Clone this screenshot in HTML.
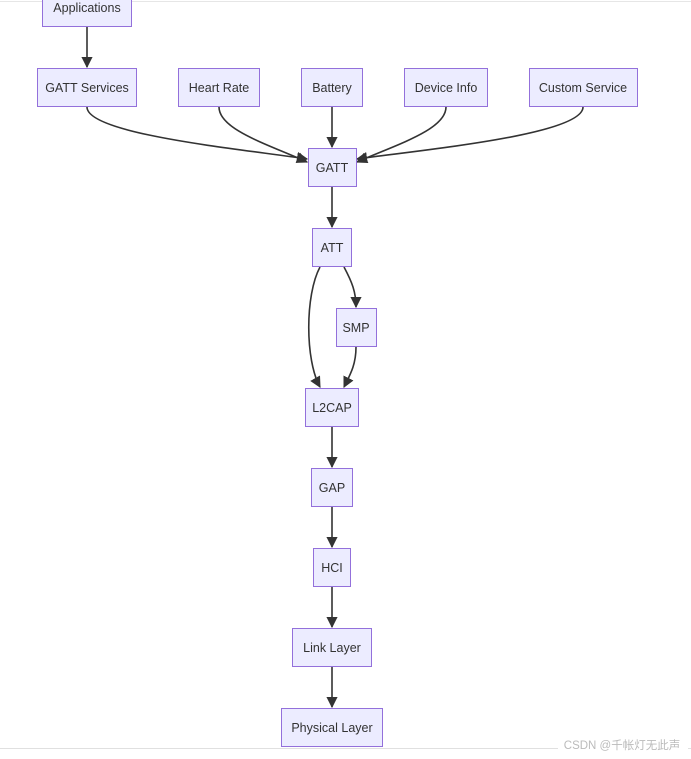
<!DOCTYPE html>
<html><head><meta charset="utf-8"><style>
html,body{margin:0;padding:0;background:#fff;width:691px;height:759px;overflow:hidden}
svg{display:block}
text{font-family:"Liberation Sans","Noto Sans CJK SC",sans-serif;font-size:12.5px;fill:#333;text-anchor:middle}
.b{fill:#ececff;stroke:#9370db;stroke-width:1}
.e{fill:none;stroke:#333;stroke-width:1.6}
</style></head><body>
<svg width="691" height="759" viewBox="0 0 691 759">
<defs><marker id="a" viewBox="0 0 10 10" refX="9" refY="5" markerWidth="7" markerHeight="7" orient="auto"><path d="M0,0L10,5L0,10z" fill="#333"/></marker></defs>
<line x1="0" y1="1.5" x2="691" y2="1.5" stroke="#e6e6e6"/>
<line x1="0" y1="748.5" x2="691" y2="748.5" stroke="#e0e0e0"/>
<path class="e" marker-end="url(#a)" d="M87,27V67"/>
<path class="e" marker-end="url(#a)" d="M87,107C87,135 250,150 307,159"/>
<path class="e" marker-end="url(#a)" d="M219,107C219,130 270,145 307,162"/>
<path class="e" marker-end="url(#a)" d="M332,107V147"/>
<path class="e" marker-end="url(#a)" d="M446,107C446,130 395,145 357,162"/>
<path class="e" marker-end="url(#a)" d="M583,107C583,135 420,150 357,159"/>
<path class="e" marker-end="url(#a)" d="M332,187V227"/>
<path class="e" marker-end="url(#a)" d="M344,267C352,282 356,292 356,307"/>
<path class="e" marker-end="url(#a)" d="M320,267C305,295 305,360 320,387"/>
<path class="e" marker-end="url(#a)" d="M356,347C356,365 350,375 344,387"/>
<path class="e" marker-end="url(#a)" d="M332,427V467"/>
<path class="e" marker-end="url(#a)" d="M332,507V547"/>
<path class="e" marker-end="url(#a)" d="M332,587V627"/>
<path class="e" marker-end="url(#a)" d="M332,667V707"/>
<rect class="b" x="42.5" y="-12" width="89" height="38.5"/><text x="87" y="12">Applications</text>
<rect class="b" x="37.5" y="68.5" width="99" height="38"/><text x="87" y="92">GATT Services</text>
<rect class="b" x="178.5" y="68.5" width="81" height="38"/><text x="219" y="92">Heart Rate</text>
<rect class="b" x="301.5" y="68.5" width="61" height="38"/><text x="332" y="92">Battery</text>
<rect class="b" x="404.5" y="68.5" width="83" height="38"/><text x="446" y="92">Device Info</text>
<rect class="b" x="529.5" y="68.5" width="108" height="38"/><text x="583" y="92">Custom Service</text>
<rect class="b" x="308.5" y="148.5" width="48" height="38"/><text x="332" y="172">GATT</text>
<rect class="b" x="312.5" y="228.5" width="39" height="38"/><text x="332" y="252">ATT</text>
<rect class="b" x="336.5" y="308.5" width="40" height="38"/><text x="356" y="332">SMP</text>
<rect class="b" x="305.5" y="388.5" width="53" height="38"/><text x="332" y="412">L2CAP</text>
<rect class="b" x="311.5" y="468.5" width="41" height="38"/><text x="332" y="492">GAP</text>
<rect class="b" x="313.5" y="548.5" width="37" height="38"/><text x="332" y="572">HCI</text>
<rect class="b" x="292.5" y="628.5" width="79" height="38"/><text x="332" y="652">Link Layer</text>
<rect class="b" x="281.5" y="708.5" width="101" height="38"/><text x="332" y="732">Physical Layer</text>
<rect x="558" y="738" width="130" height="14" fill="#fff"/>
<text x="622" y="749" style="font-size:11.5px;fill:#bbb">CSDN @千帐灯无此声</text>
</svg>
</body></html>
